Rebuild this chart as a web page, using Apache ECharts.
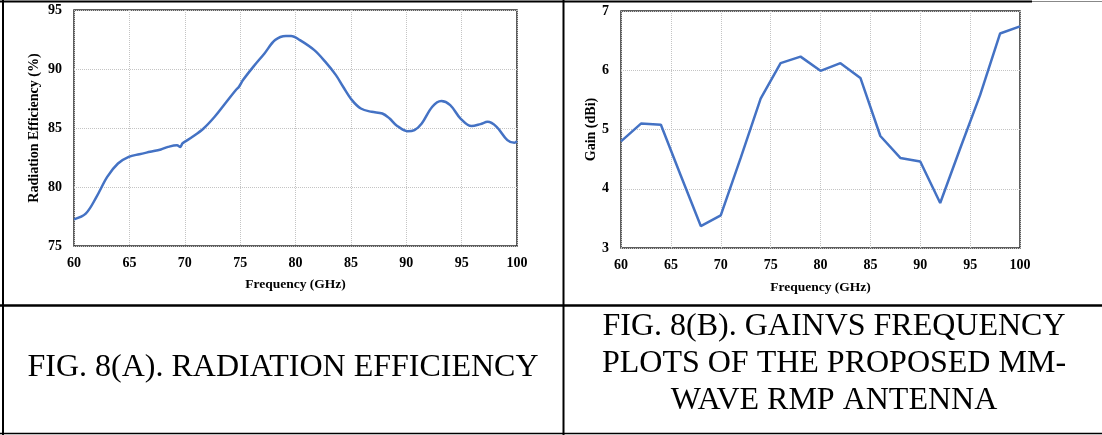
<!DOCTYPE html>
<html>
<head>
<meta charset="utf-8">
<script src="https://cdn.jsdelivr.net/npm/echarts/dist/echarts.min.js"></script>
<style>
  html, body { margin: 0; padding: 0; background: #fff; }
  #chart { width: 1102px; height: 435px; }
</style>
</head>
<body>
<div id="chart"></div>
<script>
// Fig. 8(a) radiation efficiency
var effFreq = [60, 61.06, 62.03, 63.0, 63.97, 64.94, 65.9, 66.87, 67.84, 68.5, 69.3, 69.6, 69.8,
  70.7, 71.7, 72.7, 73.65, 74.6, 74.9, 75.26, 76.2, 77.2, 78.16, 79.13, 79.6, 80.4, 81.7,
  82.7, 83.65, 84.3, 85.1, 85.9, 86.87, 87.84, 88.5, 89.1, 90.1, 90.74, 91.4, 92.35, 93.16,
  93.97, 94.9, 95.9, 96.7, 97.35, 98.16, 99.13, 99.77, 100];
var effValues = [77.26, 77.74, 79.16, 80.86, 81.99, 82.55, 82.78, 82.98, 83.18, 83.4, 83.54, 83.4, 83.7,
  84.25, 84.96, 85.95, 87.08, 88.2, 88.5, 89.06, 90.2, 91.32, 92.45, 92.8, 92.8, 92.45, 91.6,
  90.6, 89.48, 88.5, 87.36, 86.65, 86.37, 86.23, 85.8, 85.24, 84.73, 84.82, 85.38, 86.8, 87.28,
  86.94, 85.8, 85.16, 85.33, 85.52, 85.1, 83.97, 83.74, 83.88];

// Fig. 8(b) gain, every 2 GHz
var gainFreq = [60, 62, 64, 66, 68, 70, 72, 74, 76, 78, 80, 82, 84, 86, 88, 90, 92, 94, 96, 98, 100];
var gainValues = [4.80, 5.10, 5.08, 4.22, 3.37, 3.55, 4.52, 5.52, 6.12, 6.23, 5.99, 6.12, 5.87,
  4.89, 4.52, 4.46, 3.76, 4.68, 5.58, 6.62, 6.74];

var captionA = "FIG. 8(A). RADIATION EFFICIENCY";
var captionB = ["FIG. 8(B). GAINVS FREQUENCY", "PLOTS OF THE PROPOSED MM-", "WAVE RMP ANTENNA"];

var serif = "'Liberation Serif', 'Times New Roman', serif";
var blue = "#4472C4";

function xAxisOf(idx, gap) {
  return {
    gridIndex: idx, type: "value", min: 60, max: 100, interval: 5,
    name: "Frequency (GHz)", nameLocation: "middle", nameGap: gap,
    nameTextStyle: { fontFamily: serif, fontWeight: "bold", fontSize: 13.5, color: "#000" },
    axisLine: { show: false }, axisTick: { show: false },
    axisLabel: { fontFamily: serif, fontWeight: "bold", fontSize: 14, color: "#000", margin: 10 },
    splitLine: { show: true, lineStyle: { type: "dotted", color: "#c4c4c4", width: 1 } }
  };
}

function yAxisOf(idx, name, min, max, step, gap) {
  return {
    gridIndex: idx, type: "value", min: min, max: max, interval: step,
    name: name, nameLocation: "middle", nameGap: gap,
    nameTextStyle: { fontFamily: serif, fontWeight: "bold", fontSize: 14, color: "#000" },
    axisLine: { show: false }, axisTick: { show: false },
    axisLabel: { fontFamily: serif, fontWeight: "bold", fontSize: 14, color: "#000", margin: 12 },
    splitLine: { show: true, lineStyle: { type: "dotted", color: "#c4c4c4", width: 1 } }
  };
}

var myChart = echarts.init(document.getElementById("chart"));

var graphics = [
  // table rules
  { type: "line", shape: { x1: 0, y1: 1.5, x2: 1032, y2: 1.5 }, style: { stroke: "#000", lineWidth: 2 } },
  { type: "line", shape: { x1: 1032, y1: 1.5, x2: 1102, y2: 1.5 }, style: { stroke: "#888", lineWidth: 1 } },
  { type: "line", shape: { x1: 3, y1: 0, x2: 3, y2: 435 }, style: { stroke: "#000", lineWidth: 2 } },
  { type: "line", shape: { x1: 563.5, y1: 0, x2: 563.5, y2: 435 }, style: { stroke: "#000", lineWidth: 2 } },
  { type: "line", shape: { x1: 0, y1: 305.5, x2: 1102, y2: 305.5 }, style: { stroke: "#000", lineWidth: 2.5 } },
  { type: "line", shape: { x1: 0, y1: 433.5, x2: 1102, y2: 433.5 }, style: { stroke: "#000", lineWidth: 1.5 } },
  {
    type: "text",
    style: { x: 283, y: 368, text: captionA, font: "32px " + serif, fill: "#000", align: "center", verticalAlign: "middle" }
  }
];
captionB.forEach(function (line, i) {
  graphics.push({
    type: "text",
    style: { x: 834, y: 327 + i * 37, text: line, font: "32px " + serif, fill: "#000", align: "center", verticalAlign: "middle" }
  });
});

var opts = {
  animation: false,
  backgroundColor: "#fff",
  grid: [
    { left: 74, top: 10, width: 443, height: 236, show: true, borderColor: "#2a2a2a", borderWidth: 1.5, backgroundColor: "transparent" },
    { left: 621, top: 11, width: 399, height: 237, show: true, borderColor: "#2a2a2a", borderWidth: 1.5, backgroundColor: "transparent" }
  ],
  xAxis: [xAxisOf(0, 32), xAxisOf(1, 33)],
  yAxis: [
    yAxisOf(0, "Radiation Efficiency (%)", 75, 95, 5, 33),
    yAxisOf(1, "Gain (dBi)", 3, 7, 1, 22)
  ],
  series: [
    {
      type: "line", xAxisIndex: 0, yAxisIndex: 0, smooth: 0.35, showSymbol: false,
      data: effFreq.map(function (f, i) { return [f, effValues[i]]; }),
      lineStyle: { color: blue, width: 2.5 }
    },
    {
      type: "line", xAxisIndex: 1, yAxisIndex: 1, smooth: false, showSymbol: false,
      data: gainFreq.map(function (f, i) { return [f, gainValues[i]]; }),
      lineStyle: { color: blue, width: 2.5 }
    }
  ],
  graphic: graphics
};

myChart.setOption(opts);
</script>
</body>
</html>
